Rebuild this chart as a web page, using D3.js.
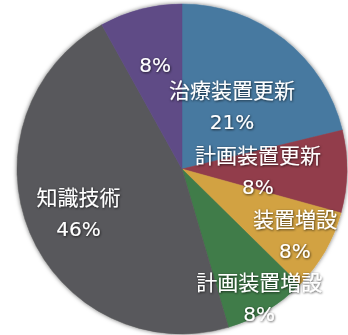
<!DOCTYPE html>
<html>
<head>
<meta charset="utf-8">
<script src="https://cdn.jsdelivr.net/npm/d3@7"></script>
<style>
  html, body { margin: 0; padding: 0; background: #fff; }
  svg { display: block; }
  text { fill: #fff; }
  .name { font-family: "Noto Sans CJK JP", "Noto Sans", sans-serif; }
  .pct  { font-family: "DejaVu Sans", "Noto Sans", sans-serif; }
</style>
</head>
<body>
<svg id="chart" width="348" height="335"></svg>
<script>
// Share of each item, in percent (clockwise from 12 o'clock)
const categories = ["治療装置更新", "計画装置更新", "装置増設", "計画装置増設", "知識技術", ""];
const percents   = [21, 8, 8, 8, 46, 8];
const colors     = ["#4679a0", "#923e4c", "#d2a243", "#3f7b49", "#58595b", "#5f4b86"];

// Distance of each label block from the centre, as a fraction of the radius
const labelRadius = [0.49, 0.46, 0.79, 0.91, 0.68, 0.65];

const width = 348, height = 335;
const cx = 182, cy = 169, R = 165;

const svg = d3.select("#chart");

const defs = svg.append("defs");
const shadow = defs.append("filter").attr("id", "edge")
  .attr("x", "-10%").attr("y", "-10%").attr("width", "120%").attr("height", "120%");
shadow.append("feDropShadow")
  .attr("dx", 0).attr("dy", 0).attr("stdDeviation", 2)
  .attr("flood-color", "#000").attr("flood-opacity", 0.55);

const textShadow = defs.append("filter").attr("id", "txt")
  .attr("x", "-20%").attr("y", "-40%").attr("width", "140%").attr("height", "180%");
textShadow.append("feDropShadow")
  .attr("dx", 0.6).attr("dy", 0.8).attr("stdDeviation", 0.9)
  .attr("flood-color", "#000").attr("flood-opacity", 0.75);

const data = categories.map((c, i) => ({ name: c, value: percents[i], color: colors[i], lr: labelRadius[i] }));

const pie = d3.pie().value(d => d.value).sort(null);
const arcs = pie(data);
const arc = d3.arc().innerRadius(0).outerRadius(R);

const g = svg.append("g").attr("transform", `translate(${cx},${cy})`);

g.append("g").attr("filter", "url(#edge)")
  .selectAll("path")
  .data(arcs)
  .join("path")
  .attr("d", arc)
  .attr("fill", d => d.data.color)
  .attr("stroke", d => d.data.color)
  .attr("stroke-width", 0.5);

const labels = g.append("g").attr("filter", "url(#txt)")
  .selectAll("g")
  .data(arcs)
  .join("g")
  .attr("transform", d => {
    const r = R * d.data.lr;
    const [x, y] = d3.arc().innerRadius(r).outerRadius(r).centroid(d);
    return `translate(${x},${y})`;
  });

labels.each(function(d) {
  const sel = d3.select(this);
  const lines = [];
  if (d.data.name) lines.push({ t: d.data.name, cls: "name" });
  lines.push({ t: d.data.value + "%", cls: "pct" });
  const gap = 33;
  const y0 = -(lines.length - 1) * gap / 2;
  lines.forEach((l, i) => {
    sel.append("text")
      .attr("class", l.cls)
      .attr("text-anchor", "middle")
      .attr("dominant-baseline", "central")
      .attr("y", y0 + i * gap)
      .attr("font-size", l.cls === "pct" ? 20 : 21)
      .text(l.t);
  });
});
</script>
</body>
</html>
